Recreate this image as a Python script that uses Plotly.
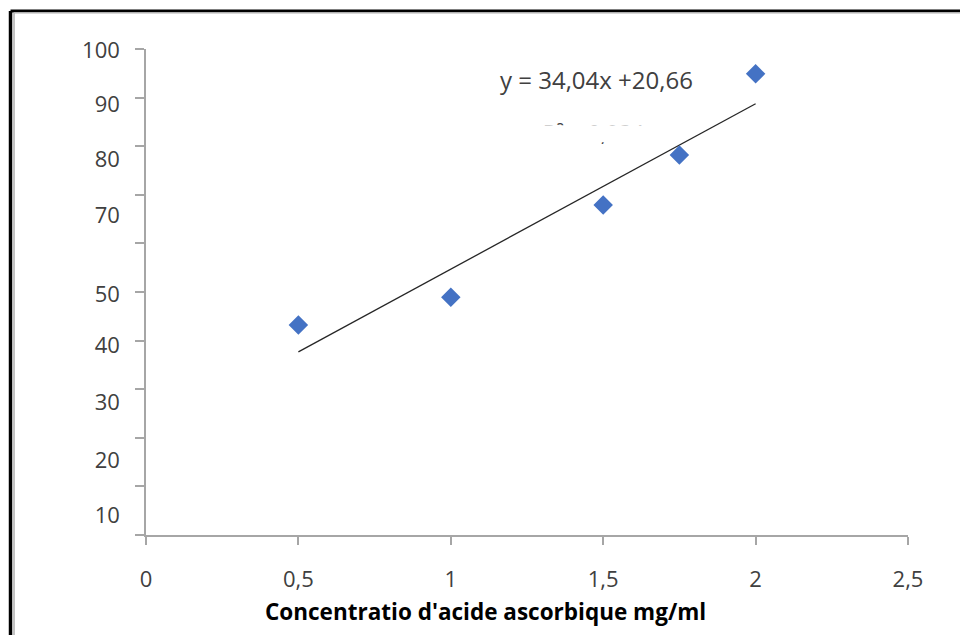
import plotly.graph_objects as go

# ---- data ----
conc = [0.5, 1.0, 1.5, 1.75, 2.0]
inhibition = [43.2, 48.9, 67.9, 78.2, 94.9]
slope = 34.04
intercept = 20.66
r2 = 0.934
trend_x = [0.5, 2.0]

y_minor_ticks = [0, 10, 20, 30, 40, 50, 60, 70, 80, 90, 100]
y_label_text = ["100", "90", "80", "70", "50", "40", "30", "20", "10"]
y_label_pos = [99.7, 88.7, 77.4, 65.7, 49.6, 39.1, 27.4, 15.4, 4.1]
x_ticks = [0, 0.5, 1, 1.5, 2, 2.5]

FONT = "Open Sans"
AX = "#A6A6A6"
TXT = "#404040"

def fmt(v):
    return f"{v:.2f}".replace(".", ",")

trend_y = [slope * x + intercept for x in trend_x]

fig = go.Figure()
fig.add_trace(go.Scatter(
    x=trend_x, y=trend_y, mode="lines",
    line=dict(color="#262626", width=1.3), showlegend=False, hoverinfo="skip"))
fig.add_trace(go.Scatter(
    x=conc, y=inhibition, mode="markers",
    marker=dict(symbol="diamond", size=15, color="#4472C4"),
    showlegend=False))
# R² label (partly hidden, as in the original)
fig.add_trace(go.Scatter(
    x=[1.302], y=[82.3], mode="text",
    text=[f"R² = {r2:.3f}".replace(".", ",")], textposition="middle right",
    textfont=dict(family=FONT, size=22, color=TXT),
    showlegend=False, hoverinfo="skip"))

fig.update_layout(
    width=960, height=635,
    margin=dict(l=146, r=52, t=49, b=100),
    paper_bgcolor="white", plot_bgcolor="white",
    separators=",.",
    font=dict(family=FONT, size=22, color=TXT),
    xaxis=dict(
        range=[0, 2.5], tickvals=x_ticks, ticks="outside", ticklen=8,
        tickcolor=AX, tickwidth=1.5, showline=True, linecolor=AX, linewidth=1.5,
        showgrid=False, zeroline=False, ticklabelstandoff=16,
        tickfont=dict(family=FONT, size=22, color=TXT)),
    yaxis=dict(
        range=[0, 100], tickvals=y_label_pos, ticktext=y_label_text, ticks="",
        showline=True, linecolor=AX, linewidth=1.5, showgrid=False, zeroline=False,
        ticklabelstandoff=20,
        tickfont=dict(family=FONT, size=22, color=TXT),
        minor=dict(tickvals=y_minor_ticks, ticks="outside", ticklen=9,
                   tickcolor=AX, tickwidth=1.5, showgrid=False)),
    shapes=[
        dict(type="rect", xref="x", yref="y", x0=1.25, x1=1.70, y0=80.8, y1=84.3,
             fillcolor="white", line=dict(width=0), layer="above"),
        dict(type="line", xref="paper", yref="paper", x0=-0.1778, x1=-0.1778,
             y0=-0.25, y1=1.0782, line=dict(color="black", width=3.5)),
        dict(type="line", xref="paper", yref="paper", x0=-0.1778, x1=1.1,
             y0=1.0782, y1=1.0782, line=dict(color="black", width=3)),
        dict(type="line", xref="paper", yref="paper", x0=-0.1732, x1=-0.1732,
             y0=-0.25, y1=1.0746, line=dict(color="#B0B0B0", width=1.5)),
        dict(type="line", xref="paper", yref="paper", x0=-0.1732, x1=1.1,
             y0=1.0746, y1=1.0746, line=dict(color="#B0B0B0", width=1.5)),
    ],
    annotations=[
        dict(text=f"y = {fmt(slope)}x +{fmt(intercept)}", xref="x", yref="y",
             x=1.154, y=93.7, xanchor="left", yanchor="middle", showarrow=False,
             font=dict(family=FONT, size=24, color=TXT)),
        dict(text="<b>Concentratio d'acide ascorbique mg/ml</b>", xref="paper",
             yref="paper", x=0.446, y=-0.157, xanchor="center", yanchor="middle",
             showarrow=False, font=dict(family=FONT, size=22.5, color="black")),
    ],
)

fig.write_html("out.html")
